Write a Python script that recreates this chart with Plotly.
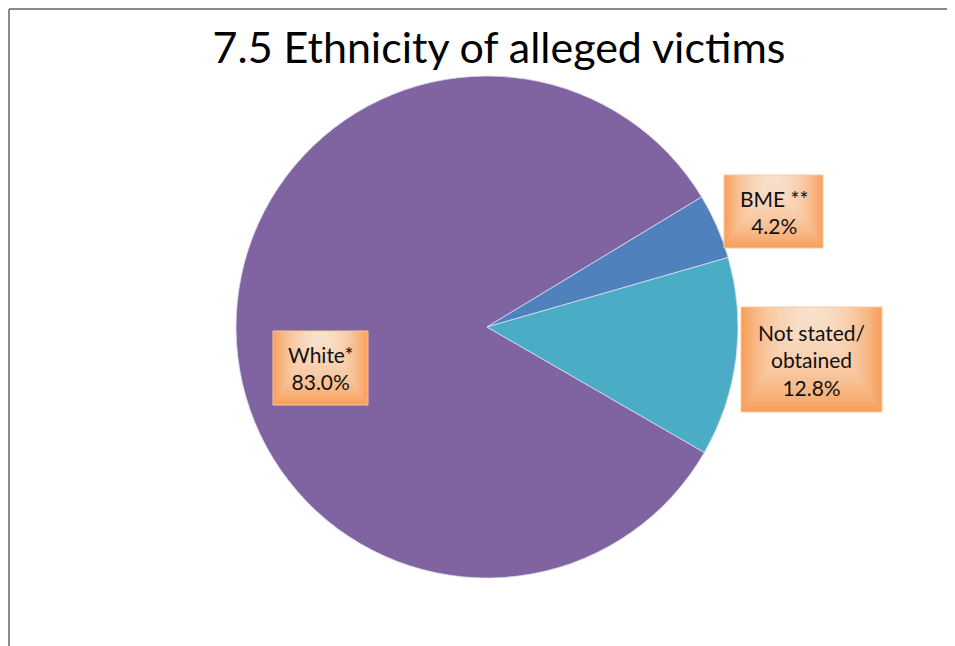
import plotly.graph_objects as go

categories = ["White*", "BME **", "Not stated/<br>obtained"]
values = [83.0, 4.2, 12.8]
colors = ["#8064A2", "#4F81BD", "#4BACC6"]
value_labels = ["83.0%", "4.2%", "12.8%"]

# page has an 8px body margin; figure pixel = page pixel - 8
OFF = 8
W, H = 955 - OFF, 646 - OFF


def px(x):
    return (x - OFF) / W


def py(y):
    return 1 - (y - OFF) / H


fig = go.Figure(go.Pie(
    labels=categories,
    values=values,
    sort=False,
    direction="clockwise",
    rotation=120,
    marker=dict(colors=colors, line=dict(color="#DCDCEC", width=0.8)),
    textinfo="none",
    hoverinfo="label+percent",
    showlegend=False,
    domain=dict(x=[px(236), px(738)], y=[py(578), py(76)]),
))

# label boxes (x0, y0, x1, y1) in page pixels
boxes = [(273, 331, 368, 405), (724, 175, 823, 248), (741, 307, 882, 412)]
shapes = []
# outer chart border (top and left edges)
shapes.append(dict(type="line", xref="paper", yref="paper", x0=1 / W, x1=1, y0=1 - 1 / H, y1=1 - 1 / H,
                   line=dict(color="#8A8A8A", width=2)))
shapes.append(dict(type="line", xref="paper", yref="paper", x0=1 / W, x1=1 / W, y0=0, y1=1 - 1 / H,
                   line=dict(color="#8A8A8A", width=2)))
annotations = []
for (x0, y0, x1, y1), cat, val in zip(boxes, categories, value_labels):
    shapes.append(dict(type="rect", xref="paper", yref="paper",
                       x0=px(x0), x1=px(x1), y0=py(y1), y1=py(y0),
                       fillcolor="#F8994F", line=dict(width=0), layer="above"))
    steps = 22
    cx = (x0 + x1) / 2
    for i in range(1, steps):
        t = i / steps
        hw = (x1 - x0) / 2 * (1 - t) * 1.05
        hh = (y1 - y0) * (1 - t) * 1.05
        shapes.append(dict(type="rect", xref="paper", yref="paper",
                           x0=px(max(x0, cx - hw)), x1=px(min(x1, cx + hw)),
                           y0=py(min(y1, y0 + hh)), y1=py(y0),
                           fillcolor="#FFF3EA", line=dict(width=0), layer="above",
                           opacity=0.085))
    shapes.append(dict(type="rect", xref="paper", yref="paper",
                       x0=px(x0), x1=px(x1), y0=py(y1), y1=py(y0),
                       fillcolor="rgba(0,0,0,0)", line=dict(color="#F9C8A0", width=1), layer="above"))
    annotations.append(dict(x=px((x0 + x1) / 2), y=py((y0 + y1) / 2), xref="paper", yref="paper",
                            xanchor="center", yanchor="middle",
                            text=f"{cat}<br>{val}", showarrow=False, align="center",
                            font=dict(family="Lato, Open Sans, sans-serif", size=21, color="#111111")))

fig.update_layout(
    width=W, height=H,
    margin=dict(l=0, r=0, t=0, b=0),
    paper_bgcolor="white",
    plot_bgcolor="white",
    title=dict(text="7.5 Ethnicity of alleged victims", x=px(499), xanchor="center",
               y=py(48), yanchor="middle", yref="paper",
               font=dict(family="Lato, Open Sans, sans-serif", size=43, color="#000000")),
    shapes=shapes,
    annotations=annotations,
)

fig.write_html("out.html")
